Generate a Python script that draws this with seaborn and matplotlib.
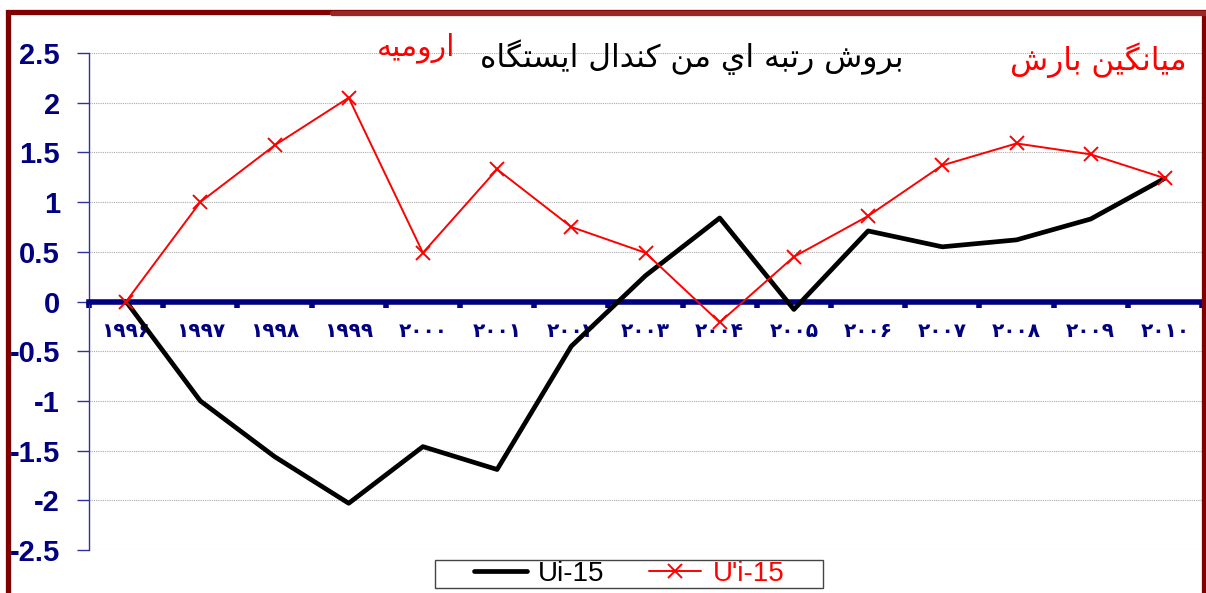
import matplotlib
matplotlib.use("Agg")
import pandas as pd
import seaborn as sns
import matplotlib.pyplot as plt
from matplotlib.patches import Rectangle
from matplotlib.lines import Line2D

# data
years = list(range(1996, 2011))
ui_15 = [0, -1.0, -1.56, -2.03, -1.46, -1.69, -0.45, 0.26, 0.84, -0.08, 0.71, 0.55, 0.62, 0.83, 1.24]
u_prime_15 = [0, 1.0, 1.57, 2.05, 0.49, 1.33, 0.75, 0.49, -0.21, 0.45, 0.86, 1.37, 1.59, 1.48, 1.24]
y_ticks = [2.5, 2, 1.5, 1, 0.5, 0, -0.5, -1, -1.5, -2, -2.5]

title_text = "بروش رتبه اي من كندال ايستگاه"
city_text = "اروميه"
var_text = "ميانگين بارش"

NAVY = "#000080"
W, H = 1206, 593

# minimal arabic shaping (matplotlib has no complex text layout)
FORMS = {
    "ا": ("\uFE8D", "\uFE8E"), "د": ("\uFEA9", "\uFEAA"),
    "ر": ("\uFEAD", "\uFEAE"), "و": ("\uFEED", "\uFEEE"),
    "ب": ("\uFE8F", "\uFE90", "\uFE91", "\uFE92"),
    "ت": ("\uFE95", "\uFE96", "\uFE97", "\uFE98"),
    "س": ("\uFEB1", "\uFEB2", "\uFEB3", "\uFEB4"),
    "ش": ("\uFEB5", "\uFEB6", "\uFEB7", "\uFEB8"),
    "ك": ("\uFED9", "\uFEDA", "\uFEDB", "\uFEDC"),
    "ل": ("\uFEDD", "\uFEDE", "\uFEDF", "\uFEE0"),
    "م": ("\uFEE1", "\uFEE2", "\uFEE3", "\uFEE4"),
    "ن": ("\uFEE5", "\uFEE6", "\uFEE7", "\uFEE8"),
    "ه": ("\uFEE9", "\uFEEA", "\uFEEB", "\uFEEC"),
    "ي": ("\uFEF1", "\uFEF2", "\uFEF3", "\uFEF4"),
    "گ": ("\uFB92", "\uFB93", "\uFB94", "\uFB95"),
}


def shape(text):
    out = []
    for i, ch in enumerate(text):
        if ch not in FORMS:
            out.append(ch)
            continue
        prev = text[i - 1] if i > 0 else " "
        nxt = text[i + 1] if i + 1 < len(text) else " "
        join_prev = prev in FORMS and len(FORMS[prev]) == 4
        join_next = len(FORMS[ch]) == 4 and nxt in FORMS
        f = FORMS[ch]
        if join_prev and join_next:
            out.append(f[3])
        elif join_prev:
            out.append(f[1])
        elif join_next:
            out.append(f[2])
        else:
            out.append(f[0])
    return "".join(out)[::-1]


def fa_digits(s):
    return str(s).translate(str.maketrans("0123456789", "۰۱۲۳۴۵۶۷۸۹"))


df = pd.DataFrame({"pos": range(len(years)), "ui": ui_15, "up": u_prime_15})

sns.set_style("white")
plt.rcParams["font.family"] = ["Liberation Sans", "DejaVu Sans"]
plt.rcParams["axes.unicode_minus"] = False

fig = plt.figure(figsize=(W / 100, H / 100), dpi=100)
ax = fig.add_axes([89 / W, 1 - 550 / H, (1202 - 89) / W, (550 - 53) / H])

sns.lineplot(data=df, x="pos", y="ui", color="black", lw=3.4, ax=ax,
             label="Ui-15", zorder=4)
sns.lineplot(data=df, x="pos", y="up", color="red", lw=1.4, marker="x",
             markersize=10, markeredgewidth=1.4, markeredgecolor="red",
             ax=ax, label="U'i-15", zorder=5)

ax.set_xlim(-0.5, len(years) - 0.5)
ax.set_ylim(-2.5, 2.5)
ax.set_xlabel("")
ax.set_ylabel("")

# y axis
ax.set_yticks(y_ticks)
ax.set_yticklabels([f"{v:g}" for v in y_ticks], fontsize=21,
                   fontweight="bold", color=NAVY)
ax.tick_params(axis="y", direction="out", length=9, width=1, color="#3030a0",
               pad=12, left=True)
ax.yaxis.grid(True, color="#aaaaaa", linestyle=(0, (1, 1)), lw=0.8)

# x axis at zero
ax.spines["top"].set_visible(False)
ax.spines["right"].set_visible(False)
ax.spines["left"].set_color("#3030a0")
ax.spines["left"].set_linewidth(1)
ax.spines["bottom"].set_position(("data", 0))
ax.spines["bottom"].set_color(NAVY)
ax.spines["bottom"].set_linewidth(4)
ax.spines["bottom"].set_zorder(3)
ax.set_xticks(range(len(years)))
ax.set_xticklabels([fa_digits(y) for y in years], fontsize=14.5,
                   fontweight="bold", color=NAVY, family="DejaVu Sans")
ax.set_xticks([i - 0.5 for i in range(len(years) + 1)], minor=True)
ax.tick_params(axis="x", which="major", length=0, pad=15)
ax.tick_params(axis="x", which="minor", direction="out", length=4, width=4,
               color=NAVY, bottom=True)

# texts
fig.text(692 / W, 1 - 57 / H, shape(title_text), ha="center", va="center",
         fontsize=22.5, color="black", family="DejaVu Sans")
fig.text(416 / W, 1 - 48 / H, shape(city_text), ha="center", va="center",
         fontsize=21.5, color="red", family="DejaVu Sans")
fig.text(1098 / W, 1 - 60 / H, shape(var_text), ha="center", va="center",
         fontsize=22.5, color="red", family="DejaVu Sans")

# legend
leg = ax.legend(loc="center", bbox_to_anchor=(629 / W, 1 - 574 / H),
                bbox_transform=fig.transFigure, ncol=2, frameon=False,
                fontsize=20, handlelength=1.9, handletextpad=0.4,
                columnspacing=1.6, borderpad=0.1)
for txt, line in zip(leg.get_texts(), leg.get_lines()):
    txt.set_color(line.get_color())
fig.add_artist(Rectangle((435 / W, 1 - 588 / H), 388 / W, 28 / H,
                         transform=fig.transFigure, fill=False,
                         edgecolor="#444444", lw=1))

# dark red frame
fig.add_artist(Rectangle((7.5 / W, -0.05), (1203.5 - 7.5) / W, 1.05 - 12.5 / H,
                         transform=fig.transFigure, fill=False,
                         edgecolor="#800000", lw=3.8, zorder=10))
fig.add_artist(Line2D([332 / W, 1], [1 - 12.5 / H] * 2, transform=fig.transFigure,
                      color="#982828", lw=3.8, zorder=11))

fig.savefig("out.png", dpi=100)
